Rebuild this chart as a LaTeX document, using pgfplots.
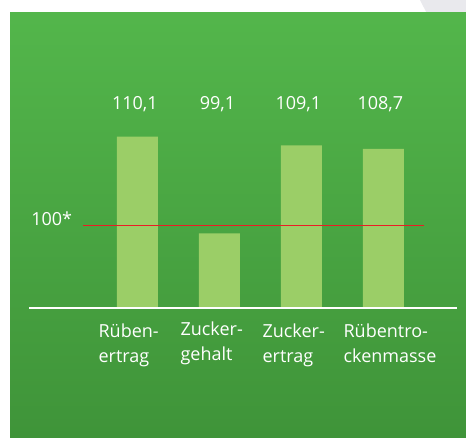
\documentclass[border=0pt]{standalone}
\usepackage{fontspec}
\setmainfont{Open Sans}
\usepackage{pgfplots}
\pgfplotsset{compat=1.18}
\definecolor{bgtop}{RGB}{83,182,75}
\definecolor{bgbot}{RGB}{63,148,57}
\definecolor{barg}{RGB}{155,206,103}
\definecolor{cornergray}{RGB}{233,233,237}
\definecolor{lred}{RGB}{235,28,36}
\begin{document}
\begin{tikzpicture}[x=1pt,y=1pt]
\useasboundingbox (0,0) rectangle (466,437);
\fill[white] (0,0) rectangle (466,437);
\fill[cornergray] (420,437) -- (466,437) -- (466,424) -- (426.7,424) -- cycle;
\shade[top color=bgtop, bottom color=bgbot] (10,0) rectangle (466,424);
\begin{axis}[
  scale only axis,
  width=451pt, height=214pt,
  at={(14.4pt,129.5pt)}, anchor=south west,
  xmin=-1.5, xmax=4, ymin=90.682, ymax=115,
  axis lines=none, clip=false,
]
\addplot[ybar, bar width=41pt, fill=barg, draw=none] coordinates {(0,110.1) (1,99.1) (2,109.1) (3,108.7)};
\addplot[draw=white, line width=2pt, mark=none] coordinates {(-1.318,90.682) (3.9,90.682)};
\fill[lred] ([yshift=-0.6pt]axis cs:-0.66,100) rectangle ([yshift=0.6pt]axis cs:3.5,100);
\begin{scope}[every node/.style={text=white, font=\fontsize{18}{25}\selectfont}]
\node[anchor=base, xshift=-2.5pt] at (axis cs:0,113.14) {110,1};
\node[anchor=base, xshift=-2pt] at (axis cs:1,113.14) {99,1};
\node[anchor=base, xshift=-3pt] at (axis cs:2,113.14) {109,1};
\node[anchor=base, xshift=-3pt] at (axis cs:3,113.14) {108,7};
\node[anchor=base east, inner sep=0pt] at (axis cs:-0.794,100) {100*};
\node[anchor=base west, inner sep=0pt, align=left, xshift=-39pt, yshift=-54.8pt] at (axis cs:0,90.682) {Rüben-\\ertrag};
\node[anchor=base west, inner sep=0pt, align=left, xshift=-39pt, yshift=-52.5pt] at (axis cs:1,90.682) {Zucker-\\gehalt};
\node[anchor=base west, inner sep=0pt, align=left, xshift=-39pt, yshift=-54.8pt] at (axis cs:2,90.682) {Zucker-\\ertrag};
\node[anchor=base west, inner sep=0pt, align=left, xshift=-40pt, yshift=-54.8pt] at (axis cs:3,90.682) {Rübentro-\\ckenmasse};
\end{scope}
\end{axis}
\end{tikzpicture}
\end{document}
